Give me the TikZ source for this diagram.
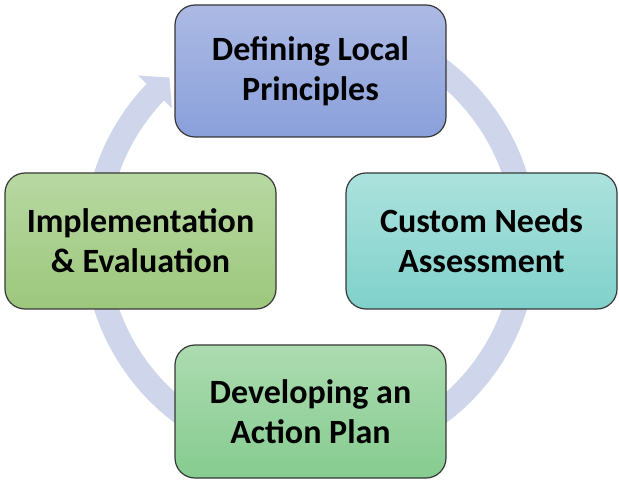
\documentclass[tikz,border=0pt]{standalone}
\usepackage{fontspec}
\setmainfont{Carlito}
\usetikzlibrary{calc}
\definecolor{ringcol}{RGB}{207,213,235}
\definecolor{edgecol}{RGB}{55,55,55}
\definecolor{blueA}{RGB}{172,186,228}
\definecolor{blueB}{RGB}{138,160,219}
\definecolor{tealA}{RGB}{172,226,221}
\definecolor{tealB}{RGB}{128,209,203}
\definecolor{leafA}{RGB}{184,216,162}
\definecolor{leafB}{RGB}{156,199,124}
\definecolor{mintA}{RGB}{172,219,176}
\definecolor{mintB}{RGB}{134,204,144}
\tikzset{
  stagebox/.style={draw=edgecol, line width=1.2pt, rounded corners=20pt,
    minimum width=271pt, minimum height=135pt, align=center,
    inner sep=0pt, font=\fontsize{34}{40}\selectfont\bfseries},
  ringline/.style={draw=ringcol, line width=24pt, line cap=butt},
}
\begin{document}
\begin{tikzpicture}[x=1pt,y=1pt]
\useasboundingbox (0,0) rectangle (619,480);
\coordinate (C) at (310.5,239);
% cycle ring behind the stages
\draw[ringline] ($(C)+(80:215)$) arc[start angle=80, end angle=-224, radius=215];
\fill[ringcol] ($(C)+(136.2:192)$) -- ($(C)+(136.2:239)$) -- ($(C)+(130.8:216)$) -- cycle;
% stages
\node[stagebox, top color=blueA, bottom color=blueB, minimum height=132pt]
  (define) at (310.5,409) {Defining Local\\Principles};
\node[stagebox, top color=tealA, bottom color=tealB, minimum height=136pt]
  (needs) at (481.5,239) {Custom Needs\\Assessment};
\node[stagebox, top color=mintA, bottom color=mintB, minimum height=133pt]
  (plan) at (310.5,68.5) {Developing an\\Action Plan};
\node[stagebox, top color=leafA, bottom color=leafB, minimum height=136pt]
  (impl) at (140.5,239) {Implementation\\\& Evaluation};
\end{tikzpicture}
\end{document}
